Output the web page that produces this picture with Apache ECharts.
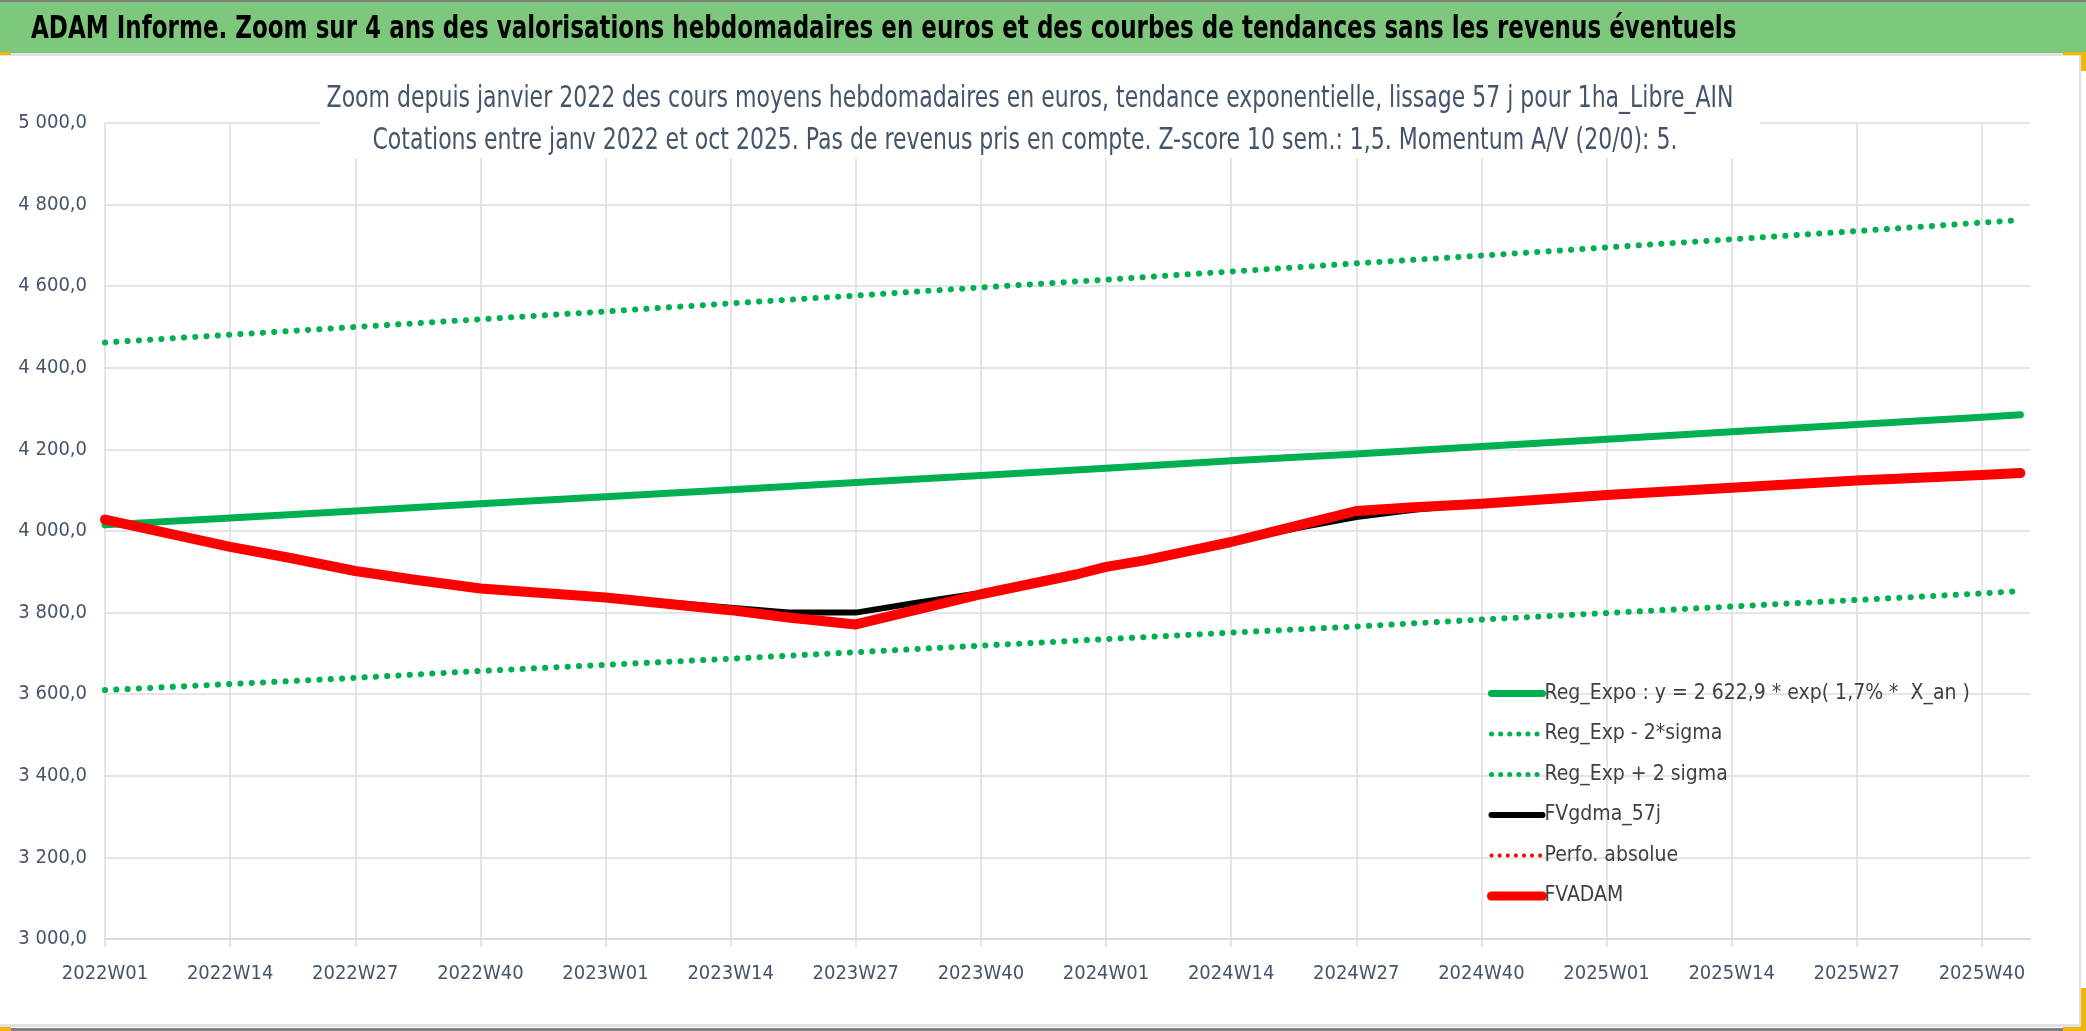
<!DOCTYPE html>
<html>
<head>
<meta charset="utf-8">
<script src="https://cdn.jsdelivr.net/npm/echarts@6/dist/echarts.min.js"></script>
<style>
  html, body { margin: 0; padding: 0; background: #fff; }
  #chart { width: 2086px; height: 1031px; }
</style>
</head>
<body>
<div id="chart"></div>
<script>
// libellés des semaines (axe X) : 2022W01 .. 2025W45
const weeks = [];
[[2022, 52], [2023, 52], [2024, 52], [2025, 45]].forEach(([y, n]) => {
    for (let w = 1; w <= n; w++) weeks.push(y + 'W' + String(w).padStart(2, '0'));
});

const HEAD_TITLE = 'ADAM Informe. Zoom sur 4 ans des valorisations hebdomadaires en euros et des courbes de tendances sans les revenus éventuels';
const SUB_TITLE = [
    'Zoom depuis janvier 2022 des cours moyens hebdomadaires en euros, tendance exponentielle, lissage 57 j pour 1ha_Libre_AIN',
    'Cotations entre janv 2022 et oct 2025. Pas de revenus pris en compte. Z-score 10 sem.: 1,5. Momentum A/V (20/0): 5.'
];
const SERIES_NAMES = ['Reg_Expo : y = 2 622,9 * exp( 1,7% *  X_an )', 'Reg_Exp - 2*sigma', 'Reg_Exp + 2 sigma',
    'FVgdma_57j', 'Perfo. absolue', 'FVADAM'];

// régressions, lues à chaque graduation
const regWeeks = ['2022W01', '2022W14', '2022W27', '2022W40', '2023W01', '2023W14', '2023W27', '2023W40',
    '2024W01', '2024W14', '2024W27', '2024W40', '2025W01', '2025W14', '2025W27', '2025W40', '2025W44'];
const regExpo = [4015, 4032, 4049, 4067, 4084, 4101, 4119, 4136, 4154, 4172, 4189, 4207, 4225, 4243, 4261, 4279, 4285];
const regMinus = [3610, 3625, 3640, 3657, 3672, 3687, 3703, 3719, 3735, 3751, 3766, 3783, 3799, 3815, 3831, 3847, 3853];
const regPlus = [4462, 4481, 4500, 4519, 4538, 4558, 4577, 4597, 4616, 4636, 4656, 4675, 4695, 4715, 4735, 4756, 4762];

// FVADAM (et Perfo. absolue, confondue)
const adamWeeks = ['2022W01', '2022W14', '2022W20', '2022W27', '2022W33', '2022W40', '2023W01', '2023W14', '2023W20',
    '2023W27', '2023W40', '2023W50', '2024W01', '2024W05', '2024W14', '2024W19', '2024W27', '2024W33', '2024W40',
    '2025W01', '2025W14', '2025W27', '2025W40', '2025W44'];
const adamValues = [4028, 3961, 3935, 3902, 3881, 3859, 3837, 3806, 3788,
    3771, 3845, 3894, 3912, 3928, 3973, 4002, 4049, 4058, 4067,
    4088, 4106, 4124, 4137, 4142];

// FVgdma_57j
const gdmaWeeks = ['2022W01', '2022W14', '2022W27', '2022W40', '2023W01', '2023W14', '2023W20', '2023W27', '2023W33',
    '2023W40', '2023W50', '2024W01', '2024W05', '2024W14', '2024W21', '2024W27', '2024W33', '2024W40',
    '2025W01', '2025W14', '2025W27', '2025W40', '2025W44'];
const gdmaValues = [4028, 3961, 3904, 3861, 3838, 3812, 3800, 3800, 3823,
    3848, 3894, 3912, 3928, 3973, 4008, 4034, 4052, 4067,
    4088, 4106, 4124, 4137, 4142];

const FONT = "'DejaVu Sans Condensed', 'Liberation Sans', sans-serif";
const GRID_COLOR = '#dadde3';
const GREEN = '#00b050';
const RED = '#ff0000';
const DOTS = [0.1, 11.2];
const pairs = (xs, ys) => xs.map((x, i) => [x, ys[i]]);

const fmtNum = v => {
    const [i, d] = v.toFixed(1).split('.');
    return i.replace(/\B(?=(\d{3})+$)/g, ' ') + ',' + d;
};

const chart = echarts.init(document.getElementById('chart'));

const lineSerie = (name, data, style) => ({
    name,
    type: 'line',
    data,
    symbol: 'none',
    lineStyle: Object.assign({cap: 'round', join: 'round'}, style),
    itemStyle: {color: style.color},
    z: 3
});

const rect = (x, y, width, height, fill, z) => ({type: 'rect', shape: {x, y, width, height}, style: {fill}, z: z || 1});

chart.setOption({
    animation: false,
    backgroundColor: '#fff',
    graphic: [
        rect(0, 0, 2086, 53, '#7ec87e'),
        rect(0, 0, 2086, 2, '#808080'),
        rect(0, 53, 2080, 3, '#dfe1e6'),
        rect(2079, 53, 2, 974, '#dfe1e6'),
        rect(0, 1024, 2080, 3, '#dfe1e6'),
        rect(0, 1028, 2086, 3, '#808080'),
        // fond blanc du titre du graphique
        rect(320, 76, 1440, 82, '#fff', 5),
        // poignées de sélection
        rect(0, 52, 11, 3, '#f2b705', 2),
        rect(2063, 52, 23, 3, '#f2b705', 2),
        rect(2081, 52, 5, 19, '#f2b705', 2),
        rect(2081, 988, 5, 43, '#f2b705', 2),
        rect(2063, 1027, 23, 4, '#f2b705', 2),
        rect(0, 1027, 11, 4, '#f2b705', 2),
        {
            type: 'text', x: 31, y: 30, scaleX: 0.8, z: 10,
            style: {text: HEAD_TITLE, fill: '#000', font: "bold 32px " + FONT, verticalAlign: 'middle', textAlign: 'left'}
        },
        {
            type: 'text', x: 1030, y: 99, scaleX: 0.815, z: 10,
            style: {text: SUB_TITLE[0], fill: '#44546a', font: "30px " + FONT, verticalAlign: 'middle', textAlign: 'center'}
        },
        {
            type: 'text', x: 1025, y: 141, scaleX: 0.815, z: 10,
            style: {text: SUB_TITLE[1], fill: '#44546a', font: "30px " + FONT, verticalAlign: 'middle', textAlign: 'center'}
        }
    ],
    legend: {
        orient: 'vertical',
        left: 1487,
        top: 683,
        itemWidth: 51,
        itemHeight: 12,
        itemGap: 19.5,
        padding: 0,
        itemStyle: {opacity: 0},
        textStyle: {fontFamily: FONT, fontSize: 21, color: '#404040', padding: [0, 0, 0, -3]},
        data: [
            {name: SERIES_NAMES[0], lineStyle: {width: 7}},
            {name: SERIES_NAMES[1], lineStyle: {width: 5, type: [0.1, 9]}},
            {name: SERIES_NAMES[2], lineStyle: {width: 5, type: [0.1, 9]}},
            {name: SERIES_NAMES[3], lineStyle: {width: 6}},
            {name: SERIES_NAMES[4], lineStyle: {width: 4, type: [0.1, 8]}},
            {name: SERIES_NAMES[5], lineStyle: {width: 9}}
        ]
    },
    grid: {left: 105, right: 56, top: 123, bottom: 92, containLabel: false},
    xAxis: {
        type: 'category',
        data: weeks,
        boundaryGap: false,
        axisLine: {lineStyle: {color: '#d6d9df', width: 2}},
        axisTick: {show: true, interval: 12, length: 8, lineStyle: {color: GRID_COLOR, width: 1.5}},
        splitLine: {show: true, interval: 12, lineStyle: {color: GRID_COLOR, width: 1.5}},
        axisLabel: {interval: 12, margin: 25, fontFamily: FONT, fontSize: 20, color: '#44546a'}
    },
    yAxis: {
        type: 'value',
        min: 3000,
        max: 5000,
        interval: 200,
        axisLine: {show: false},
        axisTick: {show: false},
        splitLine: {lineStyle: {color: GRID_COLOR, width: 1.5}},
        axisLabel: {margin: 18, fontFamily: FONT, fontSize: 20, color: '#44546a', formatter: fmtNum}
    },
    series: [
        lineSerie(SERIES_NAMES[0], pairs(regWeeks, regExpo), {color: GREEN, width: 7}),
        lineSerie(SERIES_NAMES[1], pairs(regWeeks, regMinus), {color: GREEN, width: 6, type: DOTS}),
        lineSerie(SERIES_NAMES[2], pairs(regWeeks, regPlus), {color: GREEN, width: 6, type: DOTS}),
        lineSerie(SERIES_NAMES[3], pairs(gdmaWeeks, gdmaValues), {color: '#000000', width: 6}),
        lineSerie(SERIES_NAMES[4], pairs(adamWeeks, adamValues), {color: RED, width: 4, type: [0.1, 9]}),
        lineSerie(SERIES_NAMES[5], pairs(adamWeeks, adamValues), {color: RED, width: 10})
    ]
});
</script>
</body>
</html>
